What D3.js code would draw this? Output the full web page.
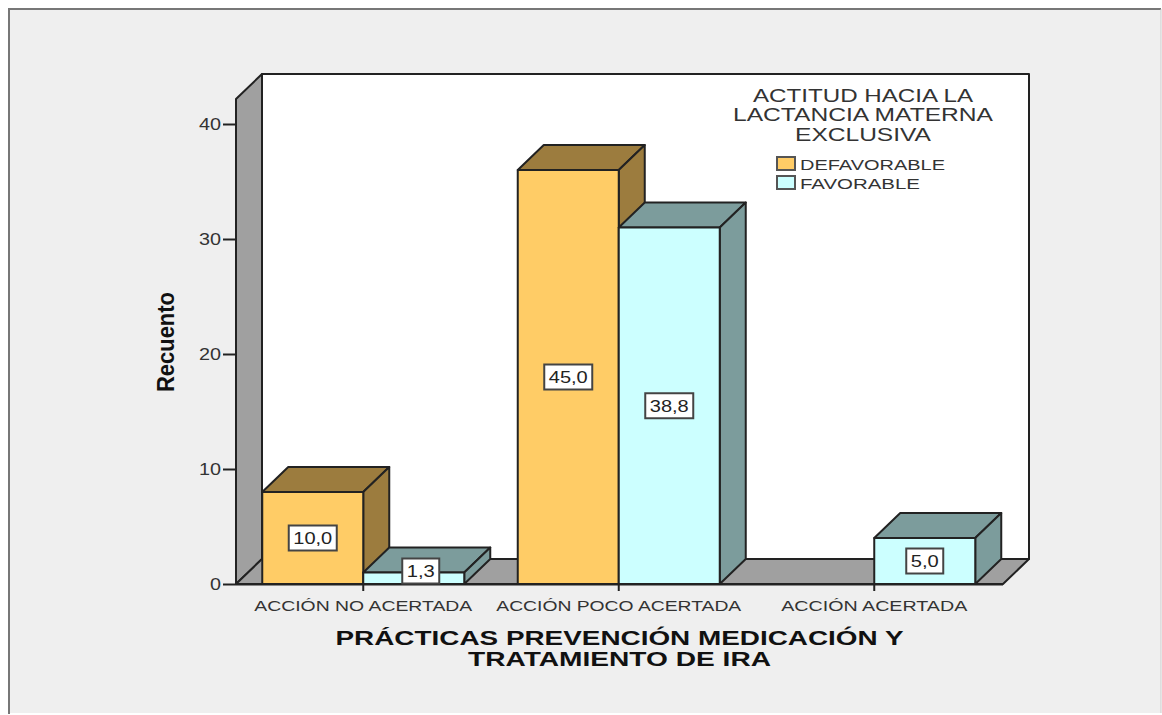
<!DOCTYPE html>
<html><head><meta charset="utf-8">
<script src="https://cdn.jsdelivr.net/npm/d3@7/dist/d3.min.js"></script>
<style>html,body{margin:0;padding:0;background:#fff}svg{display:block}text{font-family:"Liberation Sans",Arial,sans-serif}</style>
</head><body><svg id="c" width="1162" height="715"></svg>
<script>
const categories = ["ACCIÓN NO ACERTADA","ACCIÓN POCO ACERTADA","ACCIÓN ACERTADA"];
const seriesNames = ["DEFAVORABLE","FAVORABLE"];
const defavorable = [8,36,0];
const favorable = [1,31,4];
const defavorableLabels = ["10,0","45,0",""];
const favorableLabels = ["1,3","38,8","5,0"];
const yTicks = [0,10,20,30,40];
const legendTitle = ["ACTITUD HACIA LA","LACTANCIA MATERNA","EXCLUSIVA"];
const xTitle = ["PRÁCTICAS PREVENCIÓN MEDICACIÓN Y","TRATAMIENTO DE IRA"];
const yTitle = "Recuento";

const svg = d3.select("#c");
const ink = "#222";
const colors = {front:["#FFCC66","#CCFFFF"], side:["#9C7C3E","#7C9C9C"]};
const dx = 26, dy = -25;
const left = 236, right = 1003, base = 584;
const y = d3.scaleLinear().domain([0,40]).range([base,124]);
const x0 = d3.scaleBand().domain(categories).range([235.5,1002]);
const x1 = d3.scaleBand().domain(seriesNames).range([-101,101]);
const topFront = 99;
const line = d3.line();

// frame
svg.append("rect").attr("x",9).attr("y",9).attr("width",1152).attr("height",704).attr("fill","#EFEFEF");
svg.append("path").attr("d","M9,714V9H1161").attr("fill","none").attr("stroke","#777").attr("stroke-width",2);
svg.append("path").attr("d","M1161,9V713").attr("fill","none").attr("stroke","#ccc").attr("stroke-width",1);

const poly = (pts,fill)=>svg.append("path").attr("d",line(pts)+"Z").attr("fill",fill).attr("stroke",ink).attr("stroke-width",2).attr("stroke-linejoin","round");

// walls
poly([[left+dx,topFront+dy],[right+dx,topFront+dy],[right+dx,base+dy],[left+dx,base+dy]],"#fff");
poly([[left,topFront],[left+dx,topFront+dy],[left+dx,base+dy],[left,base]],"#A0A0A0");
poly([[left,base],[left+dx,base+dy],[right+dx,base+dy],[right,base]],"#A0A0A0");

// y axis
const gy = svg.append("g").attr("transform",`translate(${left},0)`).call(d3.axisLeft(y).tickValues(yTicks).tickSize(13).tickSizeOuter(0).tickPadding(2));
gy.select(".domain").remove();
gy.selectAll("line").attr("stroke",ink).attr("stroke-width",2);
gy.selectAll("text").attr("font-size",16).attr("fill","#333").attr("font-family","Liberation Sans")
  .attr("textLength",d=>d===0?11:22).attr("lengthAdjust","spacingAndGlyphs");

// x axis
const gx = svg.append("g").attr("transform",`translate(0,${base})`).call(d3.axisBottom(x0).tickSize(7).tickSizeOuter(0).tickPadding(6));
gx.select(".domain").attr("stroke",ink).attr("stroke-width",2).attr("d",`M${left},0.5H${right}`);
gx.selectAll("line").attr("stroke",ink).attr("stroke-width",2);
gx.selectAll("text").attr("font-size",14.5).attr("fill","#333").attr("font-family","Liberation Sans").attr("dy","0.95em")
  .attr("textLength",(d,i)=>[218,245,186][i]).attr("lengthAdjust","spacingAndGlyphs");

// bars
const bars=[];
categories.forEach((c,i)=>{
  const cx = x0(c)+x0.bandwidth()/2;
  [[defavorable,defavorableLabels],[favorable,favorableLabels]].forEach(([vals,labs],s)=>{
    if(vals[i]>0) bars.push({x:cx+x1(seriesNames[s]),w:x1.bandwidth(),v:vals[i],s,lab:labs[i]});
  });
});
bars.forEach(b=>{
  const t=y(b.v), r=b.x+b.w;
  poly([[b.x,t],[b.x+dx,t+dy],[r+dx,t+dy],[r,t]],colors.side[b.s]);
  poly([[r,t],[r+dx,t+dy],[r+dx,base+dy],[r,base]],colors.side[b.s]);
  poly([[b.x,t],[r,t],[r,base],[b.x,base]],colors.front[b.s]);
});
bars.forEach(b=>{
  const t=y(b.v), small=(base-t)<25;
  const cx=b.x+b.w/2+(small?7:0), cy=small?571:(t+base)/2;
  const long=b.lab.length>3, w=long?48:37, h=25;
  svg.append("rect").attr("x",cx-w/2).attr("y",cy-h/2).attr("width",w).attr("height",h).attr("fill","#fff").attr("stroke","#444").attr("stroke-width",2);
  svg.append("text").attr("x",cx).attr("y",cy+6).attr("text-anchor","middle").attr("font-size",16.5).attr("fill","#222")
    .attr("textLength",long?39:28).attr("lengthAdjust","spacingAndGlyphs").text(b.lab);
});

// legend
const lt=[95,114,134];
legendTitle.forEach((t,i)=>svg.append("text").attr("x",863).attr("y",lt[i]+7).attr("text-anchor","middle").attr("font-size",18).attr("fill","#333").attr("textLength",[220,260,136][i]).attr("lengthAdjust","spacingAndGlyphs").text(t));
seriesNames.forEach((n,i)=>{
  const yy=157+i*19;
  svg.append("rect").attr("x",777).attr("y",yy).attr("width",18).attr("height",13).attr("fill",colors.front[i]).attr("stroke","#555").attr("stroke-width",2);
  svg.append("text").attr("x",800).attr("y",yy+12.5).attr("font-size",15).attr("fill","#333").attr("textLength",[145,120][i]).attr("lengthAdjust","spacingAndGlyphs").text(n);
});

// axis titles
xTitle.forEach((t,i)=>svg.append("text").attr("x",619.5).attr("y",645+i*20.5).attr("text-anchor","middle").attr("font-size",20).attr("font-weight","bold").attr("fill","#111").attr("textLength",[568,303][i]).attr("lengthAdjust","spacingAndGlyphs").text(t));
svg.append("text").attr("transform","translate(174,342) rotate(-90)").attr("text-anchor","middle").attr("font-size",23).attr("font-weight","bold").attr("fill","#111").attr("textLength",100).attr("lengthAdjust","spacingAndGlyphs").text(yTitle);
</script></body></html>
